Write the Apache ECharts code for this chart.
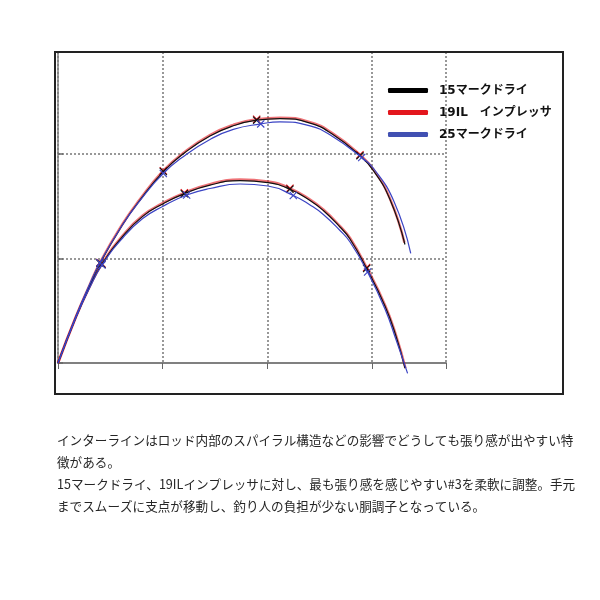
<!DOCTYPE html>
<html>
<head>
<meta charset="utf-8">
<script src="https://cdn.jsdelivr.net/npm/echarts@6/dist/echarts.min.js"></script>
<style>
html,body{margin:0;padding:0;background:#fff;}
#chart{width:600px;height:600px;}
</style>
</head>
<body>
<div id="chart"></div>
<script>
// Legend / series names
const rodNames = ['15マークドライ', '19IL　インプレッサ', '25マークドライ'];

// Curves (grid unit = 100). "upper" = heavier load, "lower" = lighter load
const black15Upper = [[0,0],[17.2,44.2],[29.9,73.5],[40.1,95.4],[61.8,132.3],[77.7,154.9],[100.6,182.9],[121.3,201.1],[145.2,216.9],[167.5,226.6],[189.8,232],[212.1,233.5],[240.8,229.2],[262.7,218.2],[288.5,198.1],[301.2,184.1],[317.2,156.2],[331.5,113.2]];
const black15Lower = [[0,0],[17.2,43.9],[29.9,71.8],[42,94.3],[61.8,121],[80.9,140.1],[100,151.9],[120.7,161.8],[145.2,170],[173.9,174.3],[200.6,172.4],[221.6,166],[240.8,155.3],[253.5,145.7],[269.4,129.9],[279,118.5],[294.9,90.3],[312.4,54.5],[322.9,25.8],[331.5,-4.8]];
const red19Upper = [[0,0],[17.2,44.4],[29.9,73.8],[40.1,96],[61.8,133],[77.7,155.6],[100.6,183.7],[121.3,201.9],[145.2,217.8],[167.5,227.5],[189.8,232.9],[212.1,234.4],[240.8,230.1],[262.7,219.1],[288.5,199],[301.2,185],[317.2,157],[331,115]];
const red19Lower = [[0,0],[17.2,44.1],[29.9,72.1],[42,94.8],[61.8,121.7],[80.9,140.9],[100,152.7],[120.7,162.6],[145.2,170.9],[173.9,175.2],[200.6,173.3],[221.6,166.9],[240.8,156.2],[253.5,146.6],[269.4,130.8],[279,119.4],[294.9,91.2],[312.4,55.4],[322.9,26.6],[332,-5]];
const blue25Upper = [[0,0],[17.2,44.9],[29.9,74.5],[40.1,95.8],[61.8,132.3],[77.7,154.3],[100.6,181.1],[121.3,198.3],[145.2,213.6],[167.5,223.2],[193.7,228.4],[212.1,230.4],[240.8,226.6],[262.7,216.1],[290.2,196.3],[301.2,186.3],[321.1,154.1],[337,104.8]];
const blue25Lower = [[0,0],[17.2,43.5],[29.9,71.2],[42,93.6],[61.8,119.4],[80.9,138],[100,149.5],[122.9,160.5],[145.2,166.7],[173.9,171],[200.6,169.1],[224.8,160],[240.8,151],[253.5,141.9],[269.4,126.6],[279,115.6],[295.8,86.9],[312.4,51.6],[322.9,22.4],[334,-9.9]];

// Indices of the points carrying an "x" marker
const upperMarkerIdx = [3, 6, 10, 14];
const lowerMarkerIdx = [3, 7, 11, 16];

// Body text lines
const bodyLines = [
  'インターラインはロッド内部のスパイラル構造などの影響でどうしても張り感が出やすい特',
  '徴がある。',
  '15マークドライ、19ILインプレッサに対し、最も張り感を感じやすい#3を柔軟に調整。手元',
  'までスムーズに支点が移動し、釣り人の負担が少ない胴調子となっている。'
];

const crossPath = 'path://M1,0 L5,4 L9,0 L10,1 L6,5 L10,9 L9,10 L5,6 L1,10 L0,9 L4,5 L0,1 Z';

function withMarkers(points, idx) {
  return points.map((p, i) => idx.indexOf(i) >= 0
    ? { value: p, symbol: crossPath, symbolSize: 8 }
    : { value: p });
}

function mkSeries(name, pts, idx, color, width, opacity, z) {
  return {
    name: name,
    type: 'line',
    smooth: 0.5,
    clip: false,
    symbol: 'none',
    showSymbol: true,
    data: withMarkers(pts, idx),
    color: color,
    itemStyle: { color: color },
    lineStyle: { color: color, width: width, opacity: opacity },
    emphasis: { disabled: true },
    z: z
  };
}

const chart = echarts.init(document.getElementById('chart'), null, { renderer: 'canvas' });

const textGraphics = bodyLines.map((t, i) => ({
  type: 'text',
  left: 57,
  top: 434 + i * 22,
  style: {
    text: t,
    fontSize: 12.6,
    fontFamily: '"Noto Sans CJK JP", "Noto Sans", sans-serif',
    fill: '#262626'
  }
}));

chart.setOption({
  animation: false,
  backgroundColor: '#ffffff',
  grid: { left: 58, top: 52, width: 388, height: 311, containLabel: false },
  xAxis: {
    type: 'value', min: 0, max: 370.7, interval: 100,
    axisLine: { show: true, onZero: false, lineStyle: { color: '#808080', width: 2 } },
    axisTick: { show: true, inside: false, length: 6, lineStyle: { color: '#666', width: 1 } },
    axisLabel: { show: false },
    splitLine: { show: true, lineStyle: { color: '#777', type: [2, 2], width: 1.5 } }
  },
  yAxis: {
    type: 'value', min: 0, max: 297.1, interval: 100,
    axisLine: { show: true, onZero: false, lineStyle: { color: '#808080', width: 1.5 } },
    axisTick: { show: true, inside: true, length: 5, lineStyle: { color: '#666', width: 1.5 } },
    axisLabel: { show: false },
    splitLine: { show: true, lineStyle: { color: '#777', type: [2, 2], width: 1.5 } }
  },
  legend: {
    data: [
      { name: rodNames[0], itemStyle: { color: '#000000' } },
      { name: rodNames[1], itemStyle: { color: '#e3161d' } },
      { name: rodNames[2], itemStyle: { color: '#4150b2' } }
    ],
    orient: 'vertical',
    left: 383, top: 77,
    itemWidth: 40, itemHeight: 5,
    itemGap: 5,
    icon: 'roundRect',
    selectedMode: false,
    textStyle: {
      fontSize: 12, fontWeight: 'bold', color: '#111',
      fontFamily: '"DejaVu Sans", "Noto Sans CJK JP", sans-serif',
      lineHeight: 17, padding: [0, 0, 0, 6]
    }
  },
  graphic: [
    { type: 'rect', shape: { x: 55, y: 52, width: 508, height: 342 },
      style: { fill: 'none', stroke: '#222', lineWidth: 2 }, z: 100 }
  ].concat(textGraphics),
  series: [
    mkSeries(rodNames[1], red19Upper, upperMarkerIdx, '#e3161d', 2.5, 0.6, 2),
    mkSeries(rodNames[1], red19Lower, lowerMarkerIdx, '#e3161d', 2.5, 0.6, 2),
    mkSeries(rodNames[0], black15Upper, upperMarkerIdx, '#111111', 1.2, 1, 3),
    mkSeries(rodNames[0], black15Lower, lowerMarkerIdx, '#111111', 1.2, 1, 3),
    mkSeries(rodNames[2], blue25Upper, upperMarkerIdx, '#3b44c4', 1.2, 1, 4),
    mkSeries(rodNames[2], blue25Lower, lowerMarkerIdx, '#3b44c4', 1.2, 1, 4)
  ]
});
</script>
</body>
</html>
